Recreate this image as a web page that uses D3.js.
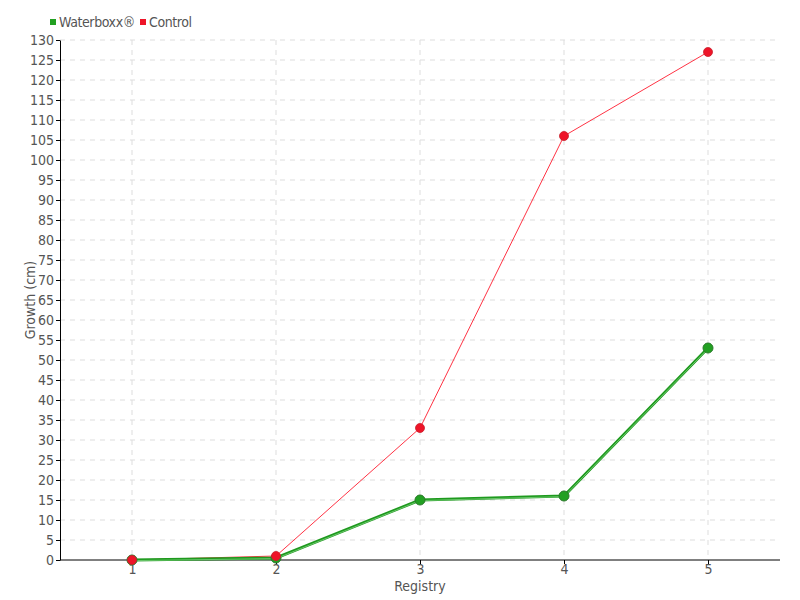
<!DOCTYPE html>
<html><head><meta charset="utf-8">
<script src="https://cdn.jsdelivr.net/npm/d3@7"></script>
<style>body{margin:0;background:#fff}text{font-family:"DejaVu Sans Condensed","DejaVu Sans",sans-serif;fill:#555}</style>
</head><body><svg id="c" width="800" height="600"></svg>
<script>
const categories = [1, 2, 3, 4, 5];
const waterboxx = [0, 0.5, 15, 16, 53];
const control = [0, 1, 33, 106, 127];
const seriesNames = ["Waterboxx®", "Control"];
const yTicks = d3.range(0, 131, 5);

const svg = d3.select("#c");
const m = {l: 60, r: 20, t: 40, b: 40};
const W = 800, H = 600;
const x = d3.scaleLinear().domain([0.5, 5.5]).range([m.l, W - m.r]);
const y = d3.scaleLinear().domain([0, 130]).range([H - m.b, m.t]);

const g = svg.append("g");
g.selectAll(".hg").data(yTicks.slice(1)).enter().append("line")
  .attr("x1", m.l).attr("x2", W - m.r).attr("y1", d => y(d)).attr("y2", d => y(d))
  .attr("stroke", "#ddd").attr("stroke-dasharray", "5,5");
g.selectAll(".vg").data(categories).enter().append("line")
  .attr("x1", d => x(d)).attr("x2", d => x(d)).attr("y1", m.t).attr("y2", H - m.b)
  .attr("stroke", "#ddd").attr("stroke-dasharray", "5,5");

const ya = svg.append("g").attr("transform", `translate(${m.l},0)`)
  .call(d3.axisLeft(y).tickValues(yTicks).tickSize(4).tickSizeOuter(0).tickPadding(2));
const xa = svg.append("g").attr("transform", `translate(0,${H - m.b})`)
  .call(d3.axisBottom(x).tickValues(categories).tickFormat(d3.format("d")).tickSize(4).tickSizeOuter(0).tickPadding(0));
[ya, xa].forEach(a => {
  a.selectAll("path,line").attr("stroke", "#000");
  a.selectAll("text").style("font-size", "14px").attr("fill", "#555");
});
xa.select(".domain").attr("d", `M${m.l},0H${W - m.r}`);

svg.append("text").attr("x", 420).attr("y", 591).attr("text-anchor", "middle")
  .style("font-size", "14px").text("Registry");
svg.append("text").attr("transform", "translate(35,300) rotate(-90)").attr("text-anchor", "middle")
  .style("font-size", "14px").text("Growth (cm)");

const line = d3.line().x((d, i) => x(categories[i])).y(d => y(d));
svg.append("path").datum(control).attr("d", line).attr("fill", "none")
  .attr("stroke", "#ff3344").attr("stroke-width", 1);
svg.append("path").datum(waterboxx).attr("d", line).attr("fill", "none")
  .attr("stroke", "#1e9a1e").attr("stroke-width", 3);
svg.append("path").datum(waterboxx).attr("d", line).attr("fill", "none")
  .attr("stroke", "#7fd07f").attr("stroke-width", 0.8).attr("transform", "translate(0,0.6)");

svg.selectAll(".wp").data(waterboxx).enter().append("circle")
  .attr("cx", (d, i) => x(categories[i])).attr("cy", d => y(d)).attr("r", 5)
  .attr("fill", "#22a022").attr("stroke", "#2a7a2a").attr("stroke-width", 1);
svg.selectAll(".cp").data(control).enter().append("circle")
  .attr("cx", (d, i) => x(categories[i])).attr("cy", d => y(d)).attr("r", 4.5)
  .attr("fill", "#ee1428").attr("stroke", "#c8202c").attr("stroke-width", 0.8);

const colors = ["#22a022", "#ee1428"];
const lx = [50, 140];
seriesNames.forEach((n, i) => {
  svg.append("rect").attr("x", lx[i]).attr("y", 19).attr("width", 6).attr("height", 6).attr("fill", colors[i]);
  svg.append("text").attr("x", lx[i] + 9).attr("y", 27).style("font-size", "14px")
    .style("letter-spacing", "-0.4px").text(n);
});
</script></body></html>
